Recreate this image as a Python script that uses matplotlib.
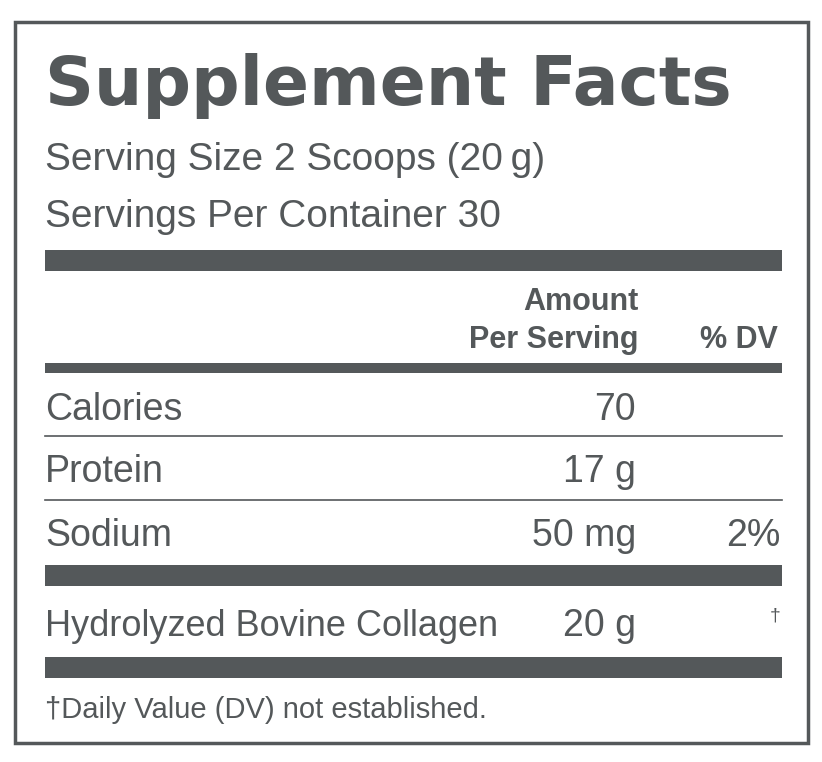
import matplotlib
matplotlib.use("Agg")
import matplotlib.pyplot as plt
from matplotlib.patches import Rectangle

title = "Supplement Facts"
serving_lines = ["Serving Size 2 Scoops (20\u2009g)", "Servings Per Container 30"]
nutrients = ["Calories", "Protein", "Sodium"]
amounts = ["70", "17 g", "50 mg"]
dvs = ["", "", "2%"]
special_name = "Hydrolyzed Bovine Collagen"
special_amount = "20 g"
special_dv = "\u2020"
footnote = "\u2020Daily Value (DV) not established."

C = "#54585a"
FONT = ["Liberation Sans", "DejaVu Sans"]
plt.rcParams['font.family'] = FONT

fig = plt.figure(figsize=(8.22, 7.62), dpi=100)
ax = fig.add_axes([0, 0, 1, 1])
ax.set_xlim(0, 822); ax.set_ylim(762, 0); ax.axis("off")

ax.add_patch(Rectangle((15, 22), 793, 721, fill=False, ec=C, lw=2.5))
ax.text(45, 105, title, fontsize=49, fontweight="bold", color=C, va="baseline",
        family=["DejaVu Sans"])
for i, s in enumerate(serving_lines):
    ax.text(45, 170 + i * 57, s, fontsize=28, color=C, va="baseline")

def bar(y0, y1):
    ax.add_patch(Rectangle((45, y0), 737, y1 - y0, color=C, lw=0))
def line(y):
    ax.plot([45, 782], [y, y], color=C, lw=1.2)

bar(250, 271)
ax.text(638, 310, "Amount", fontsize=22, fontweight="bold", color=C, ha="right", va="baseline")
ax.text(638, 348, "Per Serving", fontsize=22, fontweight="bold", color=C, ha="right", va="baseline")
ax.text(778, 348, "% DV", fontsize=22, fontweight="bold", color=C, ha="right", va="baseline")
bar(363, 373)
ys = [420, 482, 546]
for i, (n, a, d) in enumerate(zip(nutrients, amounts, dvs)):
    ax.text(45, ys[i], n, fontsize=27, color=C, va="baseline")
    ax.text(636, ys[i], a, fontsize=27, color=C, ha="right", va="baseline")
    ax.text(780, ys[i], d, fontsize=27, color=C, ha="right", va="baseline")
line(436); line(500)
bar(565, 586)
ax.text(45, 636, special_name, fontsize=26, color=C, va="baseline")
ax.text(636, 636, special_amount, fontsize=27, color=C, ha="right", va="baseline")
ax.text(780, 620, special_dv, fontsize=14, color=C, ha="right", va="baseline")
bar(657, 678)
ax.text(45, 718, footnote, fontsize=21, color=C, va="baseline")

fig.savefig("out.png", dpi=100)
